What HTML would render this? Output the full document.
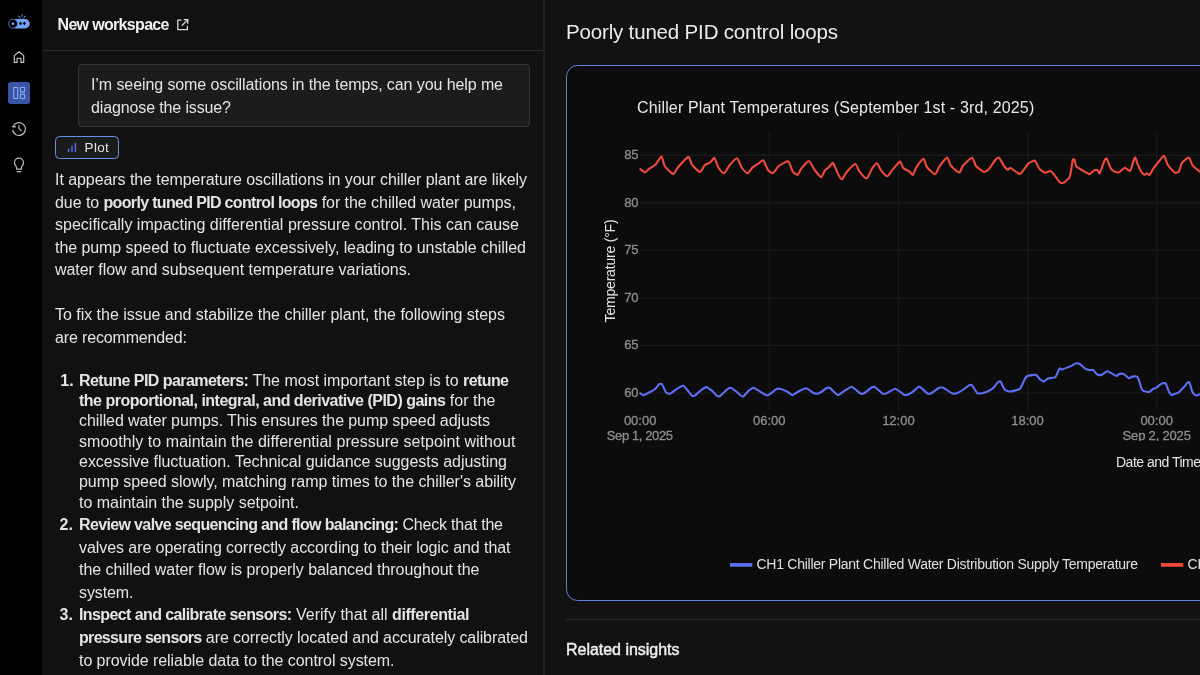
<!DOCTYPE html>
<html lang="en">
<head>
<meta charset="utf-8">
<title>New workspace</title>
<style>
*{box-sizing:border-box;margin:0;padding:0}
html,body{width:1200px;height:675px;overflow:hidden;background:#000}
body{position:relative;font-family:"Liberation Sans",sans-serif;-webkit-font-smoothing:antialiased}
.sidebar{position:absolute;left:0;top:0;width:42px;height:675px;background:#000}
.chat{position:absolute;left:42px;top:0;width:502px;height:675px;background:#111111;border-left:1px solid #171717}
.chat-head{position:absolute;left:0;top:0;width:502px;height:50.5px;border-bottom:1.8px solid #2c2c2c}
.divider{position:absolute;left:543px;top:0;width:2.1px;height:675px;background:#1f1f1f}
.right{position:absolute;left:545px;top:0;width:655px;height:675px;background:#121212}
.card{position:absolute;left:565.9px;top:64.8px;width:660px;height:536.6px;border:1.9px solid #5f84dc;border-radius:11.5px;background:#0c0c0c}
.hr{position:absolute;left:566px;top:618.5px;width:634px;height:1.8px;background:#2c2c2c}
.bubble{position:absolute;left:78px;top:63.5px;width:452px;height:63.5px;background:#1c1c1c;border:1px solid #343434;border-radius:4px}
.chip{position:absolute;left:55px;top:136px;width:63.7px;height:22.6px;background:#1b1b1b;border:1.7px solid #6690ea;border-radius:4.5px}
.navact{position:absolute;left:8px;top:81.5px;width:22px;height:22.5px;background:#3a53a2;border-radius:2.5px}
.t{position:absolute;white-space:nowrap;font-weight:400}
.t b{font-weight:700}
.med{-webkit-text-stroke:0.45px currentColor}
.tick{-webkit-text-stroke:0.3px currentColor}
.clipper{position:absolute;left:1100px;top:440.5px;width:100px;height:10px;background:#0c0c0c}
svg{position:absolute;left:0;top:0;overflow:visible}
.ytitle{position:absolute;left:610px;top:271px;width:0;height:0}
.ytitle span{position:absolute;white-space:nowrap;transform:translate(-50%,-50%) rotate(-90deg);font-size:14px;color:#e6e6e6;letter-spacing:-0.2px}
</style>
</head>
<body>
<div class="sidebar"></div>
<div class="chat"><div class="chat-head"></div></div>
<div class="divider"></div>
<div class="right"></div>
<div class="card"></div>
<div class="hr"></div>
<div class="bubble"></div>
<div class="chip"></div>
<div class="navact"></div>

<svg width="1200" height="675" viewBox="0 0 1200 675">
  <!-- chart grid -->
  <g stroke="#191919" stroke-width="1.3" fill="none"><line x1="640" x2="1200" y1="155.25" y2="155.25"/><line x1="640" x2="1200" y1="202.77" y2="202.77"/><line x1="640" x2="1200" y1="250.29" y2="250.29"/><line x1="640" x2="1200" y1="297.81" y2="297.81"/><line x1="640" x2="1200" y1="345.33" y2="345.33"/><line x1="640" x2="1200" y1="392.85" y2="392.85"/><line x1="769.33" x2="769.33" y1="132.5" y2="410.5"/><line x1="898.46" x2="898.46" y1="132.5" y2="410.5"/><line x1="1027.59" x2="1027.59" y1="132.5" y2="410.5"/><line x1="1156.72" x2="1156.72" y1="132.5" y2="410.5"/></g>
  <!-- series -->
  <path d="M640.3,169.1 C640.8,169.4 644.3,172.4 645.1,172.4 C645.9,172.4 647.6,169.9 648.7,169.1 C649.8,168.3 654.4,165.7 655.7,164.4 C657.0,163.1 660.7,156.2 661.6,156.4 C662.5,156.6 663.5,164.2 664.7,166.0 C665.9,167.8 672.0,173.9 673.3,174.0 C674.6,174.1 676.5,169.0 678.0,167.3 C679.5,165.6 686.9,157.2 688.3,156.9 C689.7,156.6 690.8,163.2 692.0,164.7 C693.2,166.2 698.7,171.9 700.0,172.0 C701.3,172.1 703.6,166.3 704.7,165.3 C705.8,164.3 709.7,162.7 710.7,162.0 C711.7,161.3 713.6,157.4 714.4,158.0 C715.2,158.6 717.7,166.5 718.7,168.0 C719.7,169.5 722.9,173.6 724.0,173.3 C725.1,173.0 728.7,166.2 730.0,164.7 C731.3,163.2 735.8,158.0 737.0,158.3 C738.2,158.6 740.9,166.5 742.0,168.0 C743.1,169.5 746.6,173.4 747.7,173.3 C748.8,173.2 751.6,168.3 752.7,167.3 C753.8,166.3 757.6,164.0 758.7,163.3 C759.8,162.6 762.4,159.6 763.3,160.3 C764.2,161.0 767.0,168.7 768.0,170.0 C769.0,171.3 771.8,173.5 772.9,173.1 C774.0,172.7 777.3,167.2 778.7,166.0 C780.1,164.8 786.2,161.6 787.3,161.3 C788.4,161.0 788.8,161.7 789.3,162.7 C789.8,163.7 791.9,170.1 792.7,171.3 C793.5,172.5 796.7,175.2 797.6,174.9 C798.5,174.6 800.2,170.1 801.3,168.7 C802.4,167.3 807.6,161.0 808.9,161.1 C810.2,161.2 813.5,168.4 814.7,170.0 C815.9,171.6 820.3,177.0 821.3,177.1 C822.3,177.2 824.0,171.7 824.7,170.7 C825.4,169.7 827.9,168.1 828.7,167.3 C829.5,166.5 832.2,163.2 832.7,162.9 C833.2,162.6 833.4,163.5 834.0,164.7 C834.6,165.9 837.9,173.8 838.7,175.3 C839.5,176.8 841.2,179.6 842.0,179.3 C842.8,179.0 845.4,173.5 846.7,172.0 C848.0,170.5 854.0,164.1 855.3,164.0 C856.6,163.9 858.2,169.9 859.3,171.3 C860.4,172.7 865.4,178.7 866.7,178.4 C868.0,178.1 871.0,170.2 872.0,168.7 C873.0,167.2 876.0,163.1 876.9,163.3 C877.8,163.5 880.3,169.4 881.3,170.7 C882.3,172.0 886.2,176.3 887.3,176.3 C888.4,176.3 890.7,171.9 892.0,170.4 C893.3,168.9 898.9,161.8 900.0,161.6 C901.1,161.4 902.4,167.0 903.3,168.0 C904.2,169.0 908.3,170.6 909.3,171.3 C910.3,172.0 912.2,175.4 912.9,174.9 C913.6,174.4 915.6,168.3 916.7,166.7 C917.8,165.1 922.6,158.7 923.6,158.7 C924.6,158.7 925.6,165.1 926.7,166.7 C927.8,168.3 933.6,174.3 934.9,174.3 C936.2,174.3 938.1,168.4 939.3,166.7 C940.5,165.0 946.0,157.7 947.1,157.6 C948.2,157.5 949.6,163.9 950.7,165.3 C951.8,166.7 957.1,171.3 958.0,172.0 C958.9,172.7 959.5,172.7 960.0,172.0 C960.5,171.3 962.1,166.7 963.3,165.3 C964.5,163.9 970.7,157.6 972.0,157.7 C973.3,157.8 974.8,164.6 976.0,166.0 C977.2,167.4 982.7,171.7 984.0,172.0 C985.3,172.3 987.6,170.5 988.7,169.3 C989.8,168.1 994.3,161.2 995.3,160.0 C996.3,158.8 998.0,157.1 998.9,157.7 C999.8,158.3 1003.1,164.8 1004.0,166.0 C1004.9,167.2 1007.0,169.4 1007.7,169.6 C1008.4,169.8 1009.5,167.6 1010.7,168.0 C1011.9,168.4 1018.3,174.4 1020.0,174.0 C1021.7,173.6 1026.5,165.3 1028.0,164.0 C1029.5,162.7 1033.8,160.2 1034.9,160.7 C1036.0,161.2 1038.3,167.5 1039.3,168.7 C1040.3,169.9 1044.1,172.4 1045.3,172.7 C1046.5,173.0 1049.8,170.3 1051.3,171.3 C1052.8,172.3 1058.7,181.4 1060.0,182.5 C1061.3,183.6 1064.0,182.6 1064.7,182.3 C1065.4,182.0 1066.5,180.1 1067.0,179.7 C1067.5,179.3 1068.9,178.8 1069.3,177.9 C1069.7,177.0 1070.8,172.1 1071.1,170.3 C1071.4,168.5 1072.5,160.9 1072.8,159.9 C1073.1,158.9 1074.2,159.3 1074.6,159.9 C1074.9,160.5 1075.4,165.2 1076.3,166.3 C1077.2,167.4 1082.0,170.1 1083.3,170.9 C1084.6,171.7 1088.8,174.1 1089.8,174.1 C1090.8,174.1 1093.0,171.0 1093.8,170.6 C1094.6,170.2 1097.0,169.8 1097.6,170.1 C1098.2,170.4 1099.0,174.2 1099.7,173.3 C1100.4,172.4 1103.6,162.5 1104.3,161.0 C1105.0,159.5 1106.1,157.8 1106.7,158.4 C1107.3,159.0 1109.6,166.2 1110.2,167.4 C1110.8,168.7 1112.2,170.4 1113.1,170.9 C1114.0,171.4 1117.7,172.7 1118.9,172.4 C1120.1,172.1 1123.7,168.0 1124.8,167.8 C1125.9,167.7 1129.1,171.6 1130.0,170.9 C1130.9,170.2 1133.0,162.3 1133.5,161.0 C1134.0,159.7 1134.8,157.0 1135.3,157.5 C1135.8,158.0 1137.6,164.3 1138.2,165.7 C1138.8,167.1 1140.5,170.4 1141.1,171.3 C1141.7,172.2 1144.0,174.6 1144.6,174.8 C1145.2,175.0 1146.4,173.3 1146.9,173.3 C1147.4,173.3 1149.0,175.5 1149.6,175.0 C1150.2,174.5 1152.3,170.0 1153.3,168.6 C1154.3,167.2 1158.1,162.3 1159.2,161.0 C1160.3,159.7 1163.3,155.5 1164.1,155.8 C1164.9,156.1 1166.6,162.6 1167.3,163.9 C1168.0,165.2 1170.0,167.7 1170.8,168.6 C1171.6,169.5 1174.1,172.4 1174.9,172.7 C1175.7,173.0 1178.3,172.3 1179.0,171.3 C1179.7,170.3 1180.9,164.2 1181.9,162.8 C1182.9,161.4 1187.9,157.3 1188.9,157.5 C1190.0,157.7 1191.3,163.7 1192.4,165.1 C1193.5,166.5 1198.6,170.6 1200.0,171.5 C1201.4,172.4 1205.4,173.8 1206.0,174.0" fill="none" stroke="#ef4a3c" stroke-width="2.1" stroke-linejoin="round" stroke-linecap="round"/>
  <path d="M640.3,393.3 C640.5,393.4 642.6,395.2 643.3,395.1 C644.0,395.0 649.1,392.5 650.0,392.0 C650.9,391.5 655.4,388.8 656.0,388.2 C656.6,387.6 658.7,384.4 659.1,384.1 C659.5,383.8 661.5,383.5 662.0,384.1 C662.5,384.7 665.4,391.7 666.0,392.4 C666.6,393.1 669.2,394.0 670.0,393.7 C670.8,393.4 676.4,389.3 677.3,388.7 C678.2,388.1 682.6,385.6 683.3,385.7 C684.0,385.8 686.7,389.3 687.3,390.0 C687.9,390.7 691.5,395.2 692.0,395.6 C692.5,396.0 694.0,396.0 694.7,395.6 C695.4,395.2 700.5,390.6 701.3,390.0 C702.1,389.4 705.7,387.1 706.4,387.1 C707.1,387.1 711.2,390.1 712.0,390.7 C712.8,391.3 716.7,395.6 717.3,396.0 C717.9,396.4 719.3,396.4 720.0,396.0 C720.7,395.6 726.0,390.3 726.7,389.7 C727.4,389.1 730.0,387.6 730.7,387.7 C731.4,387.8 735.2,390.7 736.0,391.3 C736.8,391.9 741.8,396.7 742.7,396.7 C743.6,396.7 747.9,391.3 748.7,390.7 C749.5,390.1 752.9,387.6 753.7,387.7 C754.5,387.8 759.1,391.1 760.0,391.6 C760.9,392.1 765.3,394.9 766.0,395.1 C766.7,395.3 768.6,395.1 769.3,394.7 C770.0,394.3 775.3,389.7 776.0,389.3 C776.7,388.9 778.6,388.6 779.3,388.7 C780.0,388.8 785.8,390.9 786.7,391.3 C787.6,391.7 791.6,395.1 792.4,395.1 C793.2,395.1 797.7,391.8 798.7,391.3 C799.7,390.8 805.2,388.2 806.3,388.3 C807.4,388.4 813.1,392.9 814.0,393.3 C814.9,393.7 818.4,393.7 819.3,393.3 C820.2,392.9 826.0,388.4 826.7,388.0 C827.4,387.6 829.2,387.5 830.0,388.0 C830.8,388.5 837.0,394.9 838.0,395.1 C839.0,395.3 843.7,391.3 844.7,390.7 C845.7,390.1 850.5,386.5 851.6,386.7 C852.7,386.9 859.8,393.1 860.7,393.6 C861.6,394.1 863.2,393.7 864.0,393.3 C864.8,392.9 871.2,387.7 872.0,387.3 C872.8,386.9 874.6,386.9 875.3,387.3 C876.0,387.7 882.0,393.2 882.7,393.6 C883.4,394.0 885.1,393.9 886.0,393.6 C886.9,393.3 894.0,388.6 895.3,388.7 C896.6,388.8 903.2,394.3 904.0,394.7 C904.8,395.1 906.6,394.9 907.3,394.7 C908.0,394.5 912.5,391.9 913.3,391.3 C914.1,390.7 918.1,386.9 918.7,386.7 C919.3,386.5 920.7,387.5 921.3,388.0 C921.9,388.5 926.6,392.9 927.3,393.3 C928.0,393.7 930.5,393.7 931.3,393.3 C932.1,392.9 937.9,388.4 938.7,388.0 C939.5,387.6 942.4,387.3 943.3,387.7 C944.2,388.1 951.1,392.9 952.0,393.3 C952.9,393.7 956.0,393.5 956.7,393.3 C957.4,393.1 961.8,390.6 962.7,390.0 C963.6,389.4 968.6,385.6 969.3,385.3 C970.0,385.0 971.4,384.7 972.0,385.3 C972.6,385.9 976.6,392.7 977.3,393.3 C978.0,393.9 981.3,393.4 982.0,393.3 C982.7,393.2 987.2,391.7 988.0,391.3 C988.8,390.9 992.6,388.7 993.3,388.0 C994.0,387.3 997.5,382.4 998.0,382.0 C998.5,381.6 1000.3,381.1 1000.7,381.6 C1001.1,382.1 1003.5,388.0 1004.0,388.7 C1004.5,389.4 1006.7,390.9 1007.3,391.1 C1007.9,391.3 1011.8,391.3 1012.7,391.1 C1013.6,390.9 1019.2,389.4 1020.0,388.7 C1020.8,388.0 1023.5,381.6 1024.0,380.7 C1024.5,379.8 1026.5,376.4 1027.3,376.0 C1028.1,375.6 1035.1,374.5 1036.0,374.7 C1036.9,374.9 1039.4,378.8 1040.0,379.3 C1040.6,379.8 1043.4,381.7 1044.0,381.6 C1044.6,381.5 1047.2,378.7 1048.0,378.4 C1048.8,378.1 1054.5,378.0 1055.3,377.3 C1056.1,376.6 1059.1,368.9 1059.6,368.4 C1060.1,367.9 1061.2,369.6 1062.0,369.5 C1062.8,369.4 1069.5,366.7 1070.5,366.3 C1071.5,365.9 1075.1,363.6 1075.8,363.4 C1076.5,363.2 1079.1,363.6 1079.8,364.0 C1080.5,364.4 1084.4,368.3 1085.1,368.7 C1085.8,369.1 1088.6,370.0 1089.2,370.1 C1089.8,370.2 1092.7,369.8 1093.3,370.1 C1093.9,370.4 1096.7,374.2 1097.3,374.5 C1097.9,374.8 1100.7,375.1 1101.4,374.9 C1102.1,374.7 1106.5,371.3 1107.3,371.2 C1108.1,371.1 1111.8,373.6 1112.5,373.9 C1113.2,374.2 1116.1,375.9 1116.6,375.9 C1117.1,375.9 1119.0,374.0 1119.5,373.9 C1120.0,373.8 1122.9,373.6 1123.6,373.9 C1124.3,374.2 1128.2,378.0 1128.8,378.2 C1129.4,378.4 1131.7,376.7 1132.3,376.6 C1132.9,376.5 1136.5,376.3 1137.0,376.6 C1137.5,376.9 1139.0,380.6 1139.3,381.5 C1139.6,382.4 1141.4,388.4 1141.7,389.1 C1142.0,389.8 1143.5,390.9 1144.0,391.1 C1144.5,391.3 1148.7,392.1 1149.3,392.0 C1149.9,391.9 1152.3,389.4 1152.8,389.1 C1153.3,388.8 1155.7,388.3 1156.3,387.9 C1156.9,387.5 1160.8,383.9 1161.5,383.6 C1162.2,383.3 1165.1,382.8 1165.6,383.3 C1166.1,383.8 1168.1,390.0 1168.5,390.8 C1168.9,391.6 1170.7,394.8 1171.4,394.9 C1172.1,395.0 1177.5,393.1 1178.4,392.6 C1179.3,392.1 1183.0,388.0 1183.7,387.3 C1184.4,386.6 1187.4,382.7 1187.8,382.4 C1188.2,382.1 1189.2,381.8 1189.5,382.4 C1189.8,383.0 1191.5,389.5 1191.8,390.3 C1192.1,391.1 1193.3,393.4 1193.6,393.8 C1193.9,394.2 1196.1,395.5 1196.5,395.5 C1196.9,395.5 1199.3,394.4 1200.0,394.1 C1200.7,393.8 1205.6,391.2 1206.0,391.0" fill="none" stroke="#5d6ff5" stroke-width="2.1" stroke-linejoin="round" stroke-linecap="round"/>
  <!-- legend swatches -->
  <line x1="730" x2="752.3" y1="564.9" y2="564.9" stroke="#5d6ff5" stroke-width="3.7"/>
  <line x1="1161" x2="1183.3" y1="564.9" y2="564.9" stroke="#ef4a3c" stroke-width="3.7"/>

  <!-- logo -->
  <g>
    <rect x="11" y="19" width="18.8" height="9.4" rx="4.7" fill="#74a0f6"/>
    <circle cx="13" cy="23.7" r="4.45" fill="#000" stroke="#567bd2" stroke-width="0.9"/>
    <circle cx="13" cy="23.7" r="1.35" fill="#74a0f6"/>
    <path d="M20.6 21.6 L22.2 23.4 L20.6 25.2 L19 23.4Z M24.4 21.6 L26 23.4 L24.4 25.2 L22.8 23.4Z" fill="#000"/>
    <path d="M21.4 14.2 H22.6 L22.3 17.6 H21.7Z M18.1 16 L18.9 15.5 L20.9 18.3 L20.4 18.7Z M25.9 16 L25.1 15.5 L23.1 18.3 L23.6 18.7Z" fill="#74a0f6"/>
  </g>
  <!-- home -->
  <path d="M14.3 62.4 V55.6 L19 51.8 L23.7 55.6 V62.4 H20.9 V58.2 H17.1 V62.4 Z" fill="none" stroke="#c9c9c9" stroke-width="1.15" stroke-linejoin="round"/>
  <!-- dashboard (active) -->
  <g fill="none" stroke="#8aabfa" stroke-width="1.1">
    <rect x="13.7" y="87.5" width="4" height="11" rx="0.3"/>
    <rect x="20.4" y="87.5" width="4.2" height="4.4" rx="0.3"/>
    <rect x="20.4" y="94.1" width="4.2" height="4.4" rx="0.3"/>
  </g>
  <!-- history -->
  <g fill="none" stroke="#bcbcbc" stroke-width="1.15" stroke-linecap="butt" stroke-linejoin="round">
    <path d="M12.95 126.9 A6.4 6.4 0 1 1 12.65 129.9"/>
    <path d="M12 126.75 H15.9" stroke-width="1.3"/>
    <path d="M18.9 125.6 V128.4 L21.3 130.9" stroke-linecap="round"/>
  </g>
  <!-- bulb -->
  <g fill="none" stroke="#bcbcbc" stroke-width="1.2" stroke-linecap="round" stroke-linejoin="round">
    <path d="M16.5 169.1 V167.2 C16.5 166 14.5 165.2 14.5 162.7 A4.5 4.5 0 0 1 23.5 162.7 C23.5 165.2 21.5 166 21.5 167.2 V169.1 Z"/>
    <path d="M17.2 171.7 H20.8" stroke-width="1.3"/>
  </g>
  <!-- external link -->
  <g fill="none" stroke="#dcdcdc" stroke-width="1.25" stroke-linecap="butt" stroke-linejoin="miter">
    <path d="M181.5 20 H177.8 V29.6 H187.4 V25.8"/>
    <path d="M183.7 19.6 H187.8 V23.7 M187.5 19.9 L181.7 25.7"/>
  </g>
  <!-- plot chip bars -->
  <g stroke="#4e6fe6" stroke-width="1.5" stroke-linecap="round">
    <path d="M68.6 149 V151.4 M72 146.3 V151.4 M75.4 143.6 V151.4"/>
  </g>
</svg>

<div class="t" id="l0" style="left:57.5px;top:14.2px;font-size:16px;line-height:22.4px;height:22.4px;color:#f2f2f2"><b style="letter-spacing:-0.672px">New workspace</b></div>
<div class="t" id="l1" style="left:91px;top:74.3px;font-size:16px;line-height:22.4px;height:22.4px;color:#e4e4e4"><span style="letter-spacing:-0.089px">I’m seeing some oscillations in the temps, can you help me</span></div>
<div class="t" id="l2" style="left:91px;top:96.8px;font-size:16px;line-height:22.4px;height:22.4px;color:#e4e4e4"><span style="letter-spacing:-0.129px">diagnose the issue?</span></div>
<div class="t" id="l3" style="left:84.6px;top:138.9px;font-size:13.5px;line-height:18.9px;height:18.9px;color:#e4e4e4"><span style="letter-spacing:0.311px">Plot</span></div>
<div class="t" id="l4" style="left:55px;top:169.3px;font-size:16px;line-height:22.4px;height:22.4px;color:#e4e4e4"><span style="letter-spacing:-0.066px">It appears the temperature oscillations in your chiller plant are likely</span></div>
<div class="t" id="l5" style="left:55px;top:191.8px;font-size:16px;line-height:22.4px;height:22.4px;color:#e4e4e4"><span style="letter-spacing:-0.062px">due to </span><b style="letter-spacing:-0.666px">poorly tuned PID control loops</b><span style="letter-spacing:-0.050px"> for the chilled water pumps,</span></div>
<div class="t" id="l6" style="left:55px;top:214.3px;font-size:16px;line-height:22.4px;height:22.4px;color:#e4e4e4"><span style="letter-spacing:0.005px">specifically impacting differential pressure control. This can cause</span></div>
<div class="t" id="l7" style="left:55px;top:236.8px;font-size:16px;line-height:22.4px;height:22.4px;color:#e4e4e4"><span style="letter-spacing:-0.068px">the pump speed to fluctuate excessively, leading to unstable chilled</span></div>
<div class="t" id="l8" style="left:55px;top:259.3px;font-size:16px;line-height:22.4px;height:22.4px;color:#e4e4e4"><span style="letter-spacing:-0.050px">water flow and subsequent temperature variations.</span></div>
<div class="t" id="l9" style="left:55px;top:304.3px;font-size:16px;line-height:22.4px;height:22.4px;color:#e4e4e4"><span style="letter-spacing:-0.027px">To fix the issue and stabilize the chiller plant, the following steps</span></div>
<div class="t" id="l10" style="left:55px;top:326.8px;font-size:16px;line-height:22.4px;height:22.4px;color:#e4e4e4"><span style="letter-spacing:-0.153px">are recommended:</span></div>
<div class="t" id="l11" style="left:60.3px;top:369.8px;font-size:16px;line-height:22.4px;height:22.4px;color:#e4e4e4"><b style="letter-spacing:0.000px">1.</b></div>
<div class="t" id="l12" style="left:79px;top:369.8px;font-size:16px;line-height:22.4px;height:22.4px;color:#e4e4e4"><b style="letter-spacing:-0.550px">Retune PID parameters:</b><span style="letter-spacing:-0.007px"> The most important step is to </span><b style="letter-spacing:-0.581px">retune</b></div>
<div class="t" id="l13" style="left:79px;top:390.1px;font-size:16px;line-height:22.4px;height:22.4px;color:#e4e4e4"><b style="letter-spacing:-0.508px">the proportional, integral, and derivative (PID) gains</b><span style="letter-spacing:0.013px"> for the</span></div>
<div class="t" id="l14" style="left:79px;top:410.4px;font-size:16px;line-height:22.4px;height:22.4px;color:#e4e4e4"><span style="letter-spacing:-0.090px">chilled water pumps. This ensures the pump speed adjusts</span></div>
<div class="t" id="l15" style="left:79px;top:430.8px;font-size:16px;line-height:22.4px;height:22.4px;color:#e4e4e4"><span style="letter-spacing:0.042px">smoothly to maintain the differential pressure setpoint without</span></div>
<div class="t" id="l16" style="left:79px;top:451.1px;font-size:16px;line-height:22.4px;height:22.4px;color:#e4e4e4"><span style="letter-spacing:-0.022px">excessive fluctuation. Technical guidance suggests adjusting</span></div>
<div class="t" id="l17" style="left:79px;top:471.4px;font-size:16px;line-height:22.4px;height:22.4px;color:#e4e4e4"><span style="letter-spacing:-0.039px">pump speed slowly, matching ramp times to the chiller&#x27;s ability</span></div>
<div class="t" id="l18" style="left:79px;top:491.8px;font-size:16px;line-height:22.4px;height:22.4px;color:#e4e4e4"><span style="letter-spacing:-0.019px">to maintain the supply setpoint.</span></div>
<div class="t" id="l19" style="left:59.6px;top:514.3px;font-size:16px;line-height:22.4px;height:22.4px;color:#e4e4e4"><b style="letter-spacing:0.000px">2.</b></div>
<div class="t" id="l20" style="left:79px;top:514.3px;font-size:16px;line-height:22.4px;height:22.4px;color:#e4e4e4"><b style="letter-spacing:-0.639px">Review valve sequencing and flow balancing:</b><span style="letter-spacing:-0.209px"> Check that the</span></div>
<div class="t" id="l21" style="left:79px;top:536.8px;font-size:16px;line-height:22.4px;height:22.4px;color:#e4e4e4"><span style="letter-spacing:-0.068px">valves are operating correctly according to their logic and that</span></div>
<div class="t" id="l22" style="left:79px;top:559.3px;font-size:16px;line-height:22.4px;height:22.4px;color:#e4e4e4"><span style="letter-spacing:-0.058px">the chilled water flow is properly balanced throughout the</span></div>
<div class="t" id="l23" style="left:79px;top:581.8px;font-size:16px;line-height:22.4px;height:22.4px;color:#e4e4e4"><span style="letter-spacing:-0.104px">system.</span></div>
<div class="t" id="l24" style="left:59.6px;top:604.3px;font-size:16px;line-height:22.4px;height:22.4px;color:#e4e4e4"><b style="letter-spacing:0.000px">3.</b></div>
<div class="t" id="l25" style="left:79px;top:604.3px;font-size:16px;line-height:22.4px;height:22.4px;color:#e4e4e4"><b style="letter-spacing:-0.594px">Inspect and calibrate sensors:</b><span style="letter-spacing:0.000px"> Verify that all </span><b style="letter-spacing:-0.391px">differential</b></div>
<div class="t" id="l26" style="left:79px;top:626.8px;font-size:16px;line-height:22.4px;height:22.4px;color:#e4e4e4"><b style="letter-spacing:-0.682px">pressure sensors</b><span style="letter-spacing:-0.092px"> are correctly located and accurately calibrated</span></div>
<div class="t" id="l27" style="left:79px;top:649.8px;font-size:16px;line-height:22.4px;height:22.4px;color:#e4e4e4"><span style="letter-spacing:-0.063px">to provide reliable data to the control system.</span></div>
<div class="t" id="l28" style="left:566px;top:18.1px;font-size:20.5px;line-height:28.7px;height:28.7px;color:#ececec"><span style="letter-spacing:-0.169px">Poorly tuned PID control loops</span></div>
<div class="t" id="l29" style="left:637px;top:96.6px;font-size:16px;line-height:22.4px;height:22.4px;color:#e8e8e8"><span style="letter-spacing:0.151px">Chiller Plant Temperatures (September 1st - 3rd, 2025)</span></div>
<div class="t med" id="l30" style="left:566px;top:638.8px;font-size:16px;line-height:22.4px;height:22.4px;color:#f0f0f0"><span style="letter-spacing:-0.023px">Related insights</span></div>
<div class="t" id="l31" style="left:756.5px;top:555.3px;font-size:14px;line-height:19.6px;height:19.6px;color:#e0e0e0"><span style="letter-spacing:-0.260px">CH1 Chiller Plant Chilled Water Distribution Supply Temperature</span></div>
<div class="t" id="l32" style="left:1187.5px;top:555.3px;font-size:14px;line-height:19.6px;height:19.6px;color:#e0e0e0"><span style="letter-spacing:0.000px">CH1 Chiller Plant Condenser Water Supply Temperature</span></div>
<div class="t" id="l33" style="left:1116px;top:452.8px;font-size:14px;line-height:19.6px;height:19.6px;color:#e6e6e6"><span style="letter-spacing:-0.505px">Date and Time</span></div>
<div class="t tick" id="l34" style="left:624.2px;top:146.3px;font-size:13px;line-height:18.2px;height:18.2px;color:#8e8e8e"><span style="letter-spacing:-0.269px">85</span></div>
<div class="t tick" id="l35" style="left:624.2px;top:193.8px;font-size:13px;line-height:18.2px;height:18.2px;color:#8e8e8e"><span style="letter-spacing:-0.269px">80</span></div>
<div class="t tick" id="l36" style="left:624.2px;top:241.3px;font-size:13px;line-height:18.2px;height:18.2px;color:#8e8e8e"><span style="letter-spacing:-0.269px">75</span></div>
<div class="t tick" id="l37" style="left:624.2px;top:288.9px;font-size:13px;line-height:18.2px;height:18.2px;color:#8e8e8e"><span style="letter-spacing:-0.269px">70</span></div>
<div class="t tick" id="l38" style="left:624.2px;top:336.4px;font-size:13px;line-height:18.2px;height:18.2px;color:#8e8e8e"><span style="letter-spacing:-0.269px">65</span></div>
<div class="t tick" id="l39" style="left:624.2px;top:383.9px;font-size:13px;line-height:18.2px;height:18.2px;color:#8e8e8e"><span style="letter-spacing:-0.269px">60</span></div>
<div class="t tick" id="l40" style="left:623.9px;top:411.9px;font-size:13px;line-height:18.2px;height:18.2px;color:#8e8e8e"><span style="letter-spacing:-0.012px">00:00</span></div>
<div class="t tick" id="l41" style="left:753.03px;top:411.9px;font-size:13px;line-height:18.2px;height:18.2px;color:#8e8e8e"><span style="letter-spacing:-0.012px">06:00</span></div>
<div class="t tick" id="l42" style="left:882.16px;top:411.9px;font-size:13px;line-height:18.2px;height:18.2px;color:#8e8e8e"><span style="letter-spacing:-0.012px">12:00</span></div>
<div class="t tick" id="l43" style="left:1011.2900000000001px;top:411.9px;font-size:13px;line-height:18.2px;height:18.2px;color:#8e8e8e"><span style="letter-spacing:-0.012px">18:00</span></div>
<div class="t tick" id="l44" style="left:1140.4199999999998px;top:411.9px;font-size:13px;line-height:18.2px;height:18.2px;color:#8e8e8e"><span style="letter-spacing:-0.012px">00:00</span></div>
<div class="t tick" id="l45" style="left:606.8px;top:427.4px;font-size:13px;line-height:18.2px;height:18.2px;color:#8e8e8e"><span style="letter-spacing:-0.392px">Sep 1, 2025</span></div>
<div class="t tick" id="l46" style="left:1122.6px;top:427.4px;font-size:13px;line-height:18.2px;height:18.2px;color:#8e8e8e"><span style="letter-spacing:-0.182px">Sep 2, 2025</span></div>
<div class="clipper"></div>
<div class="ytitle"><span>Temperature (°F)</span></div>
</body>
</html>
